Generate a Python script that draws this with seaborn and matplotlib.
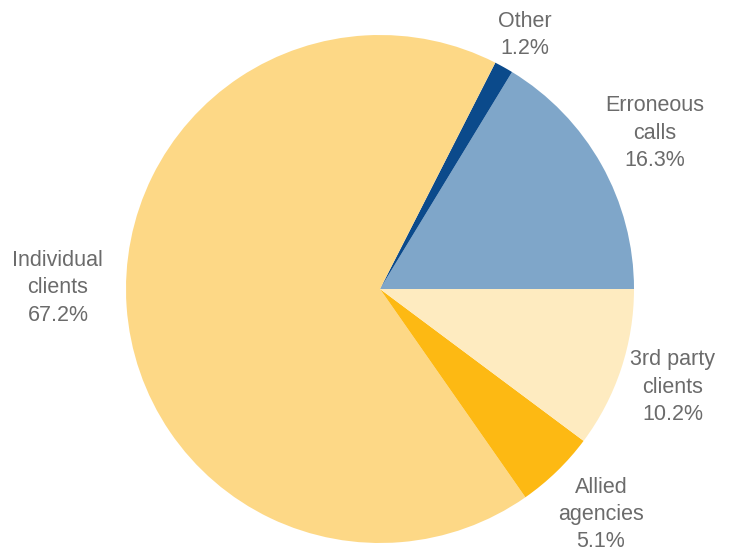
import matplotlib
matplotlib.use('Agg')
import seaborn as sns
from matplotlib import pyplot as plt

# Data
categories = ['Erroneous\ncalls', 'Other', 'Individual\nclients', 'Allied\nagencies', '3rd party\nclients']
shares = [16.3, 1.2, 67.2, 5.1, 10.2]
colors = ['#7fa6c9', '#0b4a8b', '#fdd886', '#fdb913', '#feebc0']

# Label centres in axes data units (pie radius = 1)
label_pos = [(1.083, 0.614), (0.571, 1.0), (-1.268, 0.004), (0.87, -0.888), (1.153, -0.386)]

sns.set_theme(style='white')
plt.rcParams['font.family'] = ['Liberation Sans', 'DejaVu Sans']

fig = plt.figure(figsize=(7.32, 5.54), dpi=100)
ax = fig.add_axes([126 / 732, 11 / 554, 508 / 732, 508 / 554])

wedges, _ = ax.pie(shares,
                   colors=colors,
                   startangle=0,
                   counterclock=True,
                   wedgeprops={'linewidth': 0})

for (x, y), cat, val in zip(label_pos, categories, shares):
    ax.text(x, y, cat + '\n' + f'{val:.1f}%',
            ha='center', va='center',
            fontsize=15.5, color='#6b6b6b', linespacing=1.4)

ax.set_xlim(-1, 1)
ax.set_ylim(-1, 1)
ax.axis('off')

fig.savefig('out.png', dpi=100)
